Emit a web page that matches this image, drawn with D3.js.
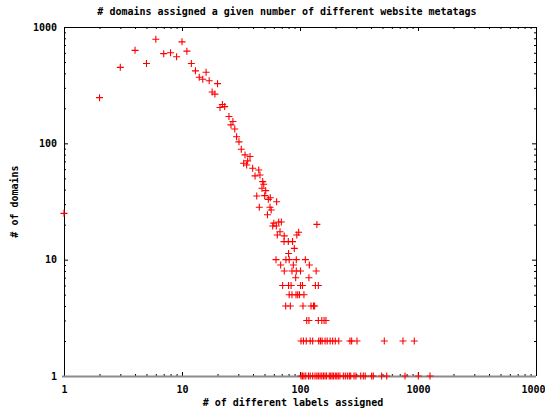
<!DOCTYPE html>
<html>
<head>
<meta charset="utf-8">
<script src="https://cdn.jsdelivr.net/npm/d3@7"></script>
<style>
  body { margin: 0; background: #fff; }
  svg { display: block; }
  text { font-family: "DejaVu Sans Mono", "Liberation Mono", monospace; font-weight: bold; font-size: 10px; fill: #000; }
</style>
</head>
<body>
<div id="chart"></div>
<script>
// number of different labels assigned (x) and number of domains (y)
const labelsAssigned = [
  1, 2, 3, 4, 5, 6, 7, 8, 9, 10, 11, 12, 13, 14, 15, 16, 17, 18, 19, 20,
  21, 22, 23, 25, 26, 27, 28, 29, 30.4, 31.8, 34.2, 37.7, 36, 33.3, 35.3, 39.7,
  44.7, 45.8, 41.6, 48.3, 49.3, 47.6, 51.2, 43, 50.2, 56, 53.9, 63.4, 45.2, 55.7,
  57, 53, 60, 58.7, 63, 66, 69.5, 139, 67.7, 64.2, 73.5, 97.5, 94, 73.2, 79.6,
  86.5, 89.5, 80
];
const domainCounts = [
  25, 247, 450, 630, 485, 785, 590, 600, 555, 745, 620, 485, 420, 370, 355, 408, 345, 276, 265, 326,
  203, 216, 207, 170, 144, 154, 133, 114, 103, 89, 79.5, 77, 70.6, 67.4, 65.2, 61,
  59, 53.5, 52.5, 46.9, 44.5, 41.1, 39.2, 35.3, 35.5, 34.1, 33, 31.5, 28.2, 28.2,
  26.7, 24.3, 20.6, 19.5, 19.5, 21.1, 21.1, 20.1, 17.4, 16.3, 16, 17.2, 16.3, 14.3, 14.3,
  14.3, 12.5, 11.3
];

// the low-count tail: x positions for each small count
const tailRows = [
  { count: 10, labels: [62.6, 76, 81, 93, 111] },
  { count: 9, labels: [68.6, 87.8, 120] },
  { count: 8, labels: [73.6, 85.5, 93, 101, 137] },
  { count: 7, labels: [91.9, 119] },
  { count: 6, labels: [71.3, 80, 84, 101, 105, 135, 143] },
  { count: 5, labels: [81, 85.5, 92.5, 95.6, 99, 108] },
  { count: 4, labels: [75.6, 82.8, 106, 124, 130, 133] },
  { count: 3, labels: [114, 119, 143, 153, 160, 166] },
  { count: 2, labels: [102, 107, 113, 122, 128, 144, 149, 154, 163, 170, 180, 189, 199, 213, 265, 274, 304, 518, 746, 930] },
  { count: 1, labels: [102, 105, 108, 112, 118, 122, 128, 134, 139, 143, 148, 153, 158, 163, 168, 177, 182, 187, 192, 199,
                       205, 211, 218, 233, 242, 252, 262, 269, 287, 298, 327, 344, 357, 405, 418, 492, 543, 776, 1006, 1264] }
];

const xTickValues = [1, 10, 100, 1000, 10000];
const yTickValues = [1, 10, 100, 1000];

const titleText = '# domains assigned a given number of different website metatags';
const xLabelText = '# of different labels assigned';
const yLabelText = '# of domains';

function main() {
  const svgWidth = 545;
  const svgHeight = 414;

  const margin = { top: 27, bottom: 38, left: 64, right: 9 };
  const chartWidth = svgWidth - margin.left - margin.right;
  const chartHeight = svgHeight - margin.top - margin.bottom;

  const svg = d3.select('#chart').append('svg')
    .attr('width', svgWidth)
    .attr('height', svgHeight);

  const chartGroup = svg.append('g').attr('transform', `translate(${margin.left}, ${margin.top})`);

  const xLogScale = d3.scaleLog().domain([1, 10000]).range([0, chartWidth]);
  const yLogScale = d3.scaleLog().domain([1, 1000]).range([chartHeight, 0]);

  // minor ticks 2..9 of every decade
  const xMinor = [];
  for (let d = 1; d < 10000; d *= 10) for (let k = 2; k < 10; k++) xMinor.push(d * k);
  const yMinor = [];
  for (let d = 1; d < 1000; d *= 10) for (let k = 2; k < 10; k++) yMinor.push(d * k);

  const fmt = d3.format('d');

  // major ticks with labels, inward
  chartGroup.append('g').attr('transform', `translate(0, ${chartHeight})`)
    .call(d3.axisBottom(xLogScale).tickValues(xTickValues).tickFormat(fmt).tickSize(-4).tickPadding(10));
  chartGroup.append('g')
    .call(d3.axisLeft(yLogScale).tickValues(yTickValues).tickFormat(fmt).tickSize(-4).tickPadding(7));
  chartGroup.append('g')
    .call(d3.axisTop(xLogScale).tickValues(xTickValues).tickFormat('').tickSize(-4));
  chartGroup.append('g').attr('transform', `translate(${chartWidth}, 0)`)
    .call(d3.axisRight(yLogScale).tickValues(yTickValues).tickFormat('').tickSize(-4));

  // minor ticks, mirrored
  chartGroup.append('g').attr('transform', `translate(0, ${chartHeight})`)
    .call(d3.axisBottom(xLogScale).tickValues(xMinor).tickFormat('').tickSize(-2));
  chartGroup.append('g')
    .call(d3.axisTop(xLogScale).tickValues(xMinor).tickFormat('').tickSize(-2));
  chartGroup.append('g')
    .call(d3.axisLeft(yLogScale).tickValues(yMinor).tickFormat('').tickSize(-2));
  chartGroup.append('g').attr('transform', `translate(${chartWidth}, 0)`)
    .call(d3.axisRight(yLogScale).tickValues(yMinor).tickFormat('').tickSize(-2));

  chartGroup.selectAll('.domain').remove();
  chartGroup.selectAll('.tick line').attr('stroke', '#000');
  chartGroup.selectAll('.tick text')
    .style('font-family', '"DejaVu Sans Mono", monospace')
    .style('font-weight', 'bold')
    .style('font-size', '10px');

  // border
  chartGroup.append('path')
    .attr('d', `M0,${chartHeight}V0H${chartWidth}V${chartHeight}`)
    .attr('fill', 'none')
    .attr('stroke', '#000')
    .attr('stroke-width', 1)
    .attr('shape-rendering', 'crispEdges');
  chartGroup.append('line')
    .attr('x1', -2).attr('x2', chartWidth)
    .attr('y1', chartHeight + 0.5).attr('y2', chartHeight + 0.5)
    .attr('stroke', '#8c8c8c')
    .attr('stroke-width', 2);

  // points
  const points = labelsAssigned.map((x, i) => ({ x: x, y: domainCounts[i] }));
  tailRows.forEach(row => row.labels.forEach(x => points.push({ x: x, y: row.count })));

  const arm = 3.5;
  chartGroup.append('g').selectAll('path')
    .data(points)
    .enter()
    .append('path')
    .attr('d', d => {
      const cx = xLogScale(d.x);
      const cy = yLogScale(d.y);
      return `M${cx - arm},${cy}H${cx + arm}M${cx},${cy - arm}V${cy + arm}`;
    })
    .attr('stroke', '#ff0000')
    .attr('stroke-width', 1.1)
    .attr('fill', 'none');

  // titles
  svg.append('text')
    .attr('x', 287)
    .attr('y', 15)
    .attr('text-anchor', 'middle')
    .text(titleText);

  svg.append('text')
    .attr('x', margin.left + chartWidth / 2 - 7)
    .attr('y', 406)
    .attr('text-anchor', 'middle')
    .text(xLabelText);

  svg.append('text')
    .attr('transform', `translate(18, ${margin.top + chartHeight / 2}) rotate(-90)`)
    .attr('text-anchor', 'middle')
    .text(yLabelText);
}

main();
</script>
</body>
</html>
